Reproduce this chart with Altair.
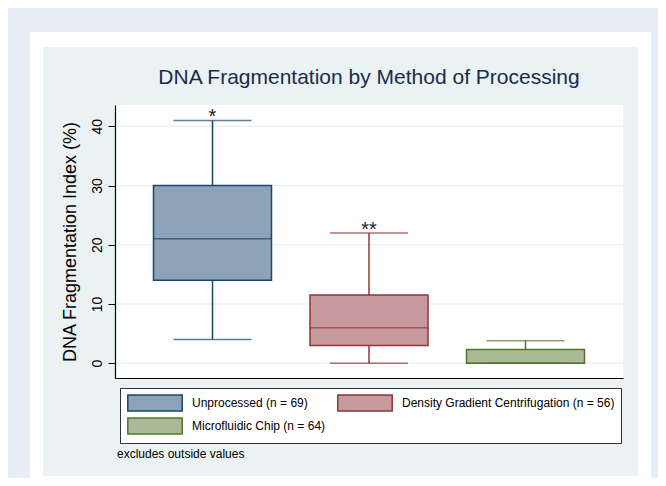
import altair as alt
import pandas as pd

# ---- data ----
categories = ["Unprocessed (n = 69)", "Density Gradient Centrifugation (n = 56)", "Microfluidic Chip (n = 64)"]
lower_whisker = [4, 0, 0]
q1 = [14, 3, 0]
median = [21, 6, 0]
q3 = [30, 11.5, 2.3]
upper_whisker = [41, 22, 3.8]
annotations = ["*", "**", ""]
y_ticks = [0, 10, 20, 30, 40]

title_text = "DNA Fragmentation by Method of Processing"
y_title = "DNA Fragmentation Index (%)"
note_text = "excludes outside values"

# ---- styles ----
fill_colors = ["#8da3b7", "#c89a9d", "#aaba97"]
stroke_colors = ["#1a476f", "#90353b", "#55752f"]
FONT = "Liberation Sans"
W, H = 508, 273

df = pd.DataFrame({
    "category": categories,
    "lo": lower_whisker,
    "q1": q1,
    "med": median,
    "q3": q3,
    "hi": upper_whisker,
    "ann": annotations,
})
grid_df = pd.DataFrame({"v": y_ticks})
one = alt.Data(values=[{"k": 0}])

xscale = alt.Scale(domain=categories, paddingInner=0, paddingOuter=0.123)
yscale = alt.Scale(domain=[-2.5, 43.6], nice=False, zero=False)

x_axis = alt.Axis(labels=False, ticks=False, title=None, domainColor="black",
                  domainWidth=1.2, zindex=1, grid=False)
y_axis = alt.Axis(values=y_ticks, labelAngle=270, labelAlign="center",
                  labelBaseline="alphabetic", labelFontSize=14, labelPadding=7,
                  labelColor="black", labelFont=FONT,
                  tickSize=7, tickColor="black", domainColor="black", domainWidth=1.2,
                  grid=False, title=y_title, titleFontSize=18, titleFontWeight="normal",
                  titleColor="black", titleFont=FONT, titleX=-40, titleY=136.5,
                  titleAngle=270, titleAlign="center", titleBaseline="alphabetic",
                  zindex=1)

X = alt.X("category:N", scale=xscale, axis=x_axis, sort=categories)

# wide rectangular legend keys: path is 6.8 x 2 units, scaled by sqrt(size)/2 = 8 px
legend = alt.Legend(orient="none", legendX=5, legendY=283, columns=2, direction="horizontal",
                    title=None,
                    symbolType="M-3.4,-1H3.4V1H-3.4Z", symbolSize=256,
                    symbolOffset=20, symbolStrokeWidth=1.5,
                    labelFontSize=12, labelFont=FONT,
                    labelColor="black", labelOffset=28, labelLimit=400,
                    columnPadding=8, rowPadding=1, padding=6,
                    strokeColor="#333333", fillColor="white", zindex=1)

# ---- decorative frames ----
outer_white = alt.Chart(one).mark_rect(color="white").encode(
    x=alt.value(-85), x2=alt.value(536), y=alt.value(-73), y2=alt.value(381))
panel = alt.Chart(one).mark_rect(color="#eaf2f3").encode(
    x=alt.value(-72), x2=alt.value(523), y=alt.value(-58), y2=alt.value(371))
plot_bg = alt.Chart(one).mark_rect(color="white").encode(
    x=alt.value(0), x2=alt.value(W), y=alt.value(0), y2=alt.value(H))

grid = alt.Chart(grid_df).mark_rule(color="#e6eef1", strokeWidth=1.2).encode(
    y=alt.Y("v:Q", scale=yscale, axis=y_axis))

base = alt.Chart(df)
# line colour for whiskers, caps and medians (no legend of its own)
cat_color = alt.Color("category:N", sort=categories, scale=alt.Scale(range=stroke_colors), legend=None)

whisk_lo = base.mark_rule(strokeWidth=1.5).encode(
    x=X, y=alt.Y("lo:Q", scale=yscale), y2="q1:Q", color=cat_color)
whisk_hi = base.mark_rule(strokeWidth=1.5).encode(
    x=X, y=alt.Y("q3:Q", scale=yscale), y2="hi:Q", color=cat_color)
cap_lo = base.mark_tick(size=78, thickness=1.5).encode(
    x=X, y=alt.Y("lo:Q", scale=yscale), color=cat_color)
cap_hi = base.mark_tick(size=78, thickness=1.5).encode(
    x=X, y=alt.Y("hi:Q", scale=yscale), color=cat_color)

boxes = base.mark_bar(size=118, strokeWidth=1.5).encode(
    x=X,
    y=alt.Y("q1:Q", scale=yscale),
    y2="q3:Q",
    fill=alt.Fill("category:N", scale=alt.Scale(domain=categories, range=fill_colors), legend=legend),
    stroke=alt.Stroke("category:N", scale=alt.Scale(domain=categories, range=stroke_colors), legend=legend),
)
med = base.mark_tick(size=118, thickness=1.5).encode(
    x=X, y=alt.Y("med:Q", scale=yscale), color=cat_color)

stars = base.mark_text(fontSize=20, font=FONT, color="#222222", baseline="alphabetic", dy=3).encode(
    x=X, y=alt.Y("hi:Q", scale=yscale), text="ann:N")

title = alt.Chart(one).mark_text(text=title_text, fontSize=21, font=FONT, color="#1b2b4b",
                                 align="center", baseline="alphabetic").encode(
    x=alt.value(W / 2), y=alt.value(-21))
note = alt.Chart(one).mark_text(text=note_text, fontSize=12, font=FONT, color="black",
                                align="left", baseline="middle").encode(
    x=alt.value(2), y=alt.value(349))

chart = alt.layer(
    outer_white, panel, plot_bg, grid,
    boxes, whisk_lo, whisk_hi, cap_lo, cap_hi, med, stars, title, note,
).properties(
    width=W, height=H,
    padding={"left": 107, "top": 97, "right": 35, "bottom": 100},
    autosize=alt.AutoSizeParams(type="none"),
    background="#e7eef8",
).configure(font=FONT).configure_view(stroke=None)

chart.save("out.html", embed_options={"renderer": "svg", "actions": False})
